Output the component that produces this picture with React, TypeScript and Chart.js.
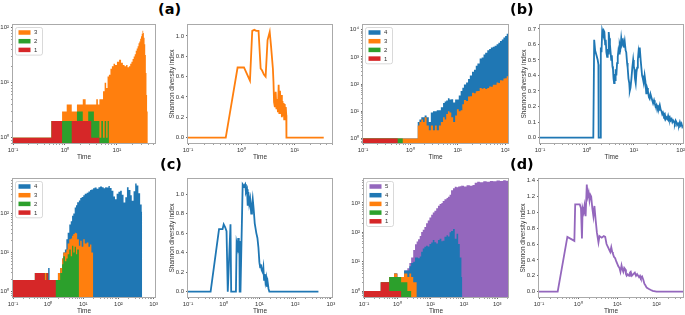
import React, { useEffect, useRef } from "react";
import { Chart, registerables } from "chart.js";
Chart.register(...registerables);

const FONT = "'Liberation Sans', Arial, sans-serif";
const TEXT = "#333333";
const RED = "#d62728";
const GREEN = "#2ca02c";
const ORANGE = "#ff7f0e";
const BLUE = "#1f77b4";
const PURPLE = "#9467bd";

// ---------- Panel (a) : strain abundances ----------
const timeA = [0.1, 0.55, 0.88, 1.08, 1.35, 1.7, 2.2, 2.5, 2.8, 3.2, 3.6, 4.0, 4.3, 4.6, 5.0, 5.4, 5.8, 6.2, 6.6, 7.0, 7.5, 8.0, 8.6, 9.2, 10, 11, 12, 13, 14, 15, 16, 17, 18, 19, 20, 21, 22, 23, 24, 25, 26, 27, 28, 29, 30, 31, 32, 33, 34, 35, 36, 37, 38, 39];
const strain1A = [1, 2, 0, 0, 2, 2, 2, 2, 2, 1, 1, 1, 1, 0, 0, 0, 0, 0, 0, 0, 0, 0, 0, 0, 0, 0, 0, 0, 0, 0, 0, 0, 0, 0, 0, 0, 0, 0, 0, 0, 0, 0, 0, 0, 0, 0, 0, 0, 0, 0, 0, 0, 0, 0];
const strain2A = [0, 0, 2, 2, 0, 1, 0, 0, 1, 2, 1, 1, 1, 1, 2, 1, 2, 1, 2, 0, 0, 0, 0, 0, 0, 0, 0, 0, 0, 0, 0, 0, 0, 0, 0, 0, 0, 0, 0, 0, 0, 0, 0, 0, 0, 0, 0, 0, 0, 0, 0, 0, 0, 0];
const strain3A = [0, 0, 1, 2, 1, 1, 3, 2, 1, 1, 2, 3, 2, 4, 3, 6, 8, 7, 11, 14, 18, 20, 22, 21, 24, 26, 23, 21, 20, 21, 19, 20, 22, 24, 27, 30, 33, 38, 42, 46, 52, 56, 63, 70, 78, 88, 80, 66, 50, 32, 15, 6, 3, 0];

// ---------- Panel (a) : Shannon index ----------
const timeAS = [0.1, 0.51, 0.85, 1.12, 1.45, 1.6, 1.75, 1.9, 2.1, 2.3, 2.45, 2.65, 2.85, 3.1, 3.4, 3.6, 3.9, 4.0, 4.1, 4.25, 4.4, 4.55, 4.7, 4.85, 5.0, 5.15, 5.3, 5.45, 5.6, 5.75, 5.9, 6.05, 6.2, 6.35, 6.5, 6.65, 6.8, 6.95, 7.0, 35];
const shannonA = [0, 0, 0.69, 0.69, 0.56, 1.05, 1.06, 1.05, 1.05, 0.68, 0.66, 0.62, 0.6, 0.96, 1.04, 0.9, 0.68, 0.55, 0.35, 0.3, 0.45, 0.28, 0.38, 0.25, 0.52, 0.24, 0.46, 0.3, 0.42, 0.2, 0.36, 0.22, 0.34, 0.18, 0.33, 0.2, 0.3, 0.22, 0, 0];

// ---------- Panel (b) : strain abundances ----------
const timeB = [0.1, 0.54, 0.69, 1.43, 1.55, 1.7, 1.85, 2.0, 2.2, 2.45, 2.7, 3.0, 3.3, 3.6, 4.0, 4.4, 4.9, 5.3, 5.7, 6.2, 6.7, 7.3, 8.0, 8.8, 9.6, 10.5, 11.5, 12.5, 13.5, 15, 16.5, 18, 20, 22, 24, 26, 29, 32, 35, 38, 42, 46, 50, 55, 60, 66, 72, 78, 85, 92, 100, 108, 115];
const strain1B = [1, 0, 0, 0, 0, 0, 0, 0, 0, 0, 0, 0, 0, 0, 0, 0, 0, 0, 0, 0, 0, 0, 0, 0, 0, 0, 0, 0, 0, 0, 0, 0, 0, 0, 0, 0, 0, 0, 0, 0, 0, 0, 0, 0, 0, 0, 0, 0, 0, 0, 0, 0, 0];
const strain2B = [0, 1, 0, 0, 0, 0, 0, 0, 0, 0, 0, 0, 0, 0, 0, 0, 0, 0, 0, 0, 0, 0, 0, 0, 0, 0, 0, 0, 0, 0, 0, 0, 0, 0, 0, 0, 0, 0, 0, 0, 0, 0, 0, 0, 0, 0, 0, 0, 0, 0, 0, 0, 0];
const strain3B = [0, 0, 1, 3, 4, 5, 4, 6, 3, 2, 3, 2, 3, 2, 3, 4, 6, 5, 8, 10, 9, 6, 4, 7, 12, 10, 11, 18, 26, 24, 35, 36, 48, 46, 55, 56, 72, 68, 72, 66, 72, 82, 80, 95, 95, 115, 110, 140, 135, 160, 165, 195, 190];
const strain4B = [0, 0, 0, 1, 1, 1, 2, 1, 3, 2, 6, 8, 7, 9, 8, 10, 14, 18, 17, 20, 18, 22, 17, 20, 15, 28, 45, 55, 70, 90, 120, 170, 240, 290, 420, 520, 800, 880, 1150, 1350, 1700, 1900, 2150, 2300, 2500, 2800, 3200, 3700, 4300, 5000, 5800, 6900, 7800];

// ---------- Panel (b) : Shannon index ----------
const timeBS = [
  0.1, 1.37, 1.43, 1.5, 1.6, 1.7, 1.76, 1.78, 1.92, 1.98,
  2.05, 2.12, 2.2, 2.28, 2.36, 2.45, 2.52, 2.6, 2.7, 2.78,
  2.85, 2.92, 3.0, 3.1, 3.2, 3.3, 3.4, 3.5, 3.6, 3.7,
  3.8, 3.9, 4.0, 4.1, 4.25, 4.4, 4.55, 4.7, 4.85, 5.0,
  5.2, 5.4, 5.6, 5.9, 6.1, 6.4, 6.7, 6.9, 7.2, 7.4,
  7.7, 8.0, 8.2, 8.5, 8.9, 9.3, 9.7, 10.0, 10.3, 10.6,
  11.0, 11.4, 11.8, 12.2, 12.6, 13.0, 13.4, 14.0, 14.5, 15.0,
  15.6, 16.3, 17.0, 17.7, 18.5, 19.2, 20.0, 21.0, 21.8, 22.7,
  23.7, 24.7, 25.8, 27, 28, 29.2, 30.4, 31.6, 33, 34.4,
  35.8, 37.4, 39, 40.5, 42, 44, 46, 48, 49.7, 52,
  54, 56, 58.5, 61, 64, 66.5, 69, 72, 75, 78,
  81, 84, 88, 92, 96, 100, 104, 108, 112];
const shannonB = [
  0, 0, 0.63, 0.56, 0.53, 0.5, 0.47, 0, 0, 0.58,
  0.55, 0.69, 0.67, 0.69, 0.68, 0.6, 0.63, 0.55, 0.52, 0.57,
  0.54, 0.68, 0.64, 0.6, 0.55, 0.5, 0.53, 0.46, 0.44, 0.38,
  0.35, 0.41, 0.37, 0.44, 0.4, 0.48, 0.52, 0.56, 0.54, 0.6,
  0.58, 0.64, 0.6, 0.62, 0.58, 0.62, 0.56, 0.55, 0.48, 0.45,
  0.38, 0.35, 0.3, 0.32, 0.38, 0.45, 0.5, 0.46, 0.44, 0.38,
  0.35, 0.42, 0.45, 0.5, 0.55, 0.52, 0.58, 0.5, 0.45, 0.4,
  0.38, 0.35, 0.4, 0.36, 0.28, 0.32, 0.3, 0.26, 0.25, 0.28,
  0.26, 0.24, 0.22, 0.24, 0.22, 0.2, 0.21, 0.18, 0.2, 0.19,
  0.21, 0.18, 0.17, 0.15, 0.16, 0.14, 0.15, 0.12, 0.13, 0.12,
  0.14, 0.12, 0.13, 0.11, 0.12, 0.1, 0.11, 0.1, 0.09, 0.11,
  0.1, 0.08, 0.09, 0.08, 0.1, 0.08, 0.09, 0.07, 0.08];

// ---------- Panel (c) : strain abundances ----------
const timeC = [
  0.1, 0.42, 0.8, 0.9, 1.0, 1.1, 1.65, 1.9, 2.2, 2.5,
  2.7, 3.0, 3.3, 3.6, 4.0, 4.4, 4.8, 5.2, 5.7, 6.2,
  6.7, 7.5, 8.2, 9, 10, 11, 12.5, 14, 15.6, 17,
  19, 21, 24, 27, 30, 34, 38, 42, 46, 52,
  57, 64, 72, 80, 89, 100, 112, 125, 140, 157,
  175, 195, 220, 240, 270, 300, 330, 370, 415, 460,
  470];
const strain1C = [
  2, 3, 2, 3, 2, 2, 0, 0, 0, 0,
  0, 0, 0, 0, 0, 0, 0, 0, 0, 0,
  0, 0, 0, 0, 0, 0, 0, 0, 0, 0,
  0, 0, 0, 0, 0, 0, 0, 0, 0, 0,
  0, 0, 0, 0, 0, 0, 0, 0, 0, 0,
  0, 0, 0, 0, 0, 0, 0, 0, 0, 0,
  0];
const strain2C = [
  0, 0, 0, 0, 0, 0, 2, 2, 3, 5,
  8, 6, 7, 9, 12, 8, 15, 10, 14, 9,
  12, 0, 0, 0, 0, 0, 0, 0, 0, 0,
  0, 0, 0, 0, 0, 0, 0, 0, 0, 0,
  0, 0, 0, 0, 0, 0, 0, 0, 0, 0,
  0, 0, 0, 0, 0, 0, 0, 0, 0, 0,
  0];
const strain3C = [
  0, 0, 1, 0, 0, 0, 0, 1, 1, 2,
  2, 4, 5, 8, 10, 15, 12, 20, 18, 22,
  10, 15, 20, 14, 22, 17, 18, 14, 16, 10,
  0, 0, 0, 0, 0, 0, 0, 0, 0, 0,
  0, 0, 0, 0, 0, 0, 0, 0, 0, 0,
  0, 0, 0, 0, 0, 0, 0, 0, 0, 0,
  0];
const strain4C = [
  0, 0, 0, 0, 2, 0, 0, 0, 0, 0,
  0, 2, 10, 15, 30, 40, 60, 70, 110, 130,
  170, 200, 230, 250, 270, 300, 320, 350, 380, 400,
  440, 460, 430, 470, 490, 470, 440, 470, 460, 500,
  450, 380, 270, 230, 320, 360, 380, 300, 190, 260,
  470, 400, 290, 210, 370, 580, 520, 330, 170, 110,
  0];

// ---------- Panel (c) : Shannon index ----------
const timeCS = [
  0.1, 0.43, 0.74, 0.93, 1.0, 1.1, 1.2, 1.3, 1.55, 1.62,
  2.2, 2.3, 2.45, 2.55, 2.65, 2.75, 2.8, 2.95, 3.4, 3.7,
  4.0, 4.2, 4.5, 4.7, 4.9, 5.2, 5.5, 5.9, 6.2, 6.5,
  6.9, 7.4, 8.2, 8.8, 9.4, 10, 10.5, 11, 11.6, 12.3,
  12.9, 13.5, 14.2, 14.8, 15.5, 16.2, 17, 18, 19, 450];
const shannonC = [
  0, 0, 0.64, 0.64, 0.69, 0.66, 0.62, 0, 0.69, 0,
  0, 0.5, 0.45, 0.55, 0.4, 0.52, 0, 0, 1.1, 1.08,
  1.1, 1.02, 1.05, 0.88, 1.02, 0.9, 0.95, 0.8, 0.88, 0.95,
  0.85, 0.7, 0.6, 0.55, 0.45, 0.3, 0.25, 0.28, 0.22, 0.2,
  0.25, 0.12, 0.18, 0.1, 0.14, 0.05, 0.1, 0.03, 0, 0];

// ---------- Panel (d) : strain abundances ----------
const timeD = [
  0.1, 0.32, 0.57, 0.8, 1.0, 1.3, 1.6, 2.0, 2.3, 2.6,
  3.0, 3.4, 3.8, 4.2, 4.7, 5.2, 5.8, 6.5, 7.3, 8.2,
  9.2, 10.4, 11.6, 13, 14.7, 16.6, 18.6, 21, 23, 26,
  30, 33, 37, 41, 47, 53, 60, 67, 75, 84,
  88, 100, 120, 150, 180, 210, 250, 300, 380, 480,
  600, 750, 950, 1200, 1500, 1800, 2100];
const strain1D = [
  1, 2, 1, 1, 1, 0, 0, 0, 0, 0,
  0, 0, 0, 0, 0, 0, 0, 0, 0, 0,
  0, 0, 0, 0, 0, 0, 0, 0, 0, 0,
  0, 0, 0, 0, 0, 0, 0, 0, 0, 0,
  0, 0, 0, 0, 0, 0, 0, 0, 0, 0,
  0, 0, 0, 0, 0, 0, 0];
const strain2D = [
  0, 0, 2, 2, 2, 2, 2, 1, 1, 0,
  0, 0, 0, 0, 0, 0, 0, 0, 0, 0,
  0, 0, 0, 0, 0, 0, 0, 0, 0, 0,
  0, 0, 0, 0, 0, 0, 0, 0, 0, 0,
  0, 0, 0, 0, 0, 0, 0, 0, 0, 0,
  0, 0, 0, 0, 0, 0, 0];
const strain3D = [
  0, 0, 0, 1, 0, 1, 2, 2, 3, 3,
  2, 2, 0, 0, 0, 0, 0, 0, 0, 0,
  0, 0, 0, 0, 0, 0, 0, 0, 0, 0,
  0, 0, 0, 0, 0, 0, 0, 0, 0, 0,
  0, 0, 0, 0, 0, 0, 0, 0, 0, 0,
  0, 0, 0, 0, 0, 0, 0];
const strain4D = [
  0, 0, 0, 0, 0, 0, 1, 2, 3, 6,
  8, 12, 14, 13, 15, 22, 28, 32, 35, 33,
  40, 45, 55, 46, 42, 55, 60, 50, 52, 70,
  80, 72, 100, 110, 130, 60, 90, 40, 14, 3,
  0, 0, 0, 0, 0, 0, 0, 0, 0, 0,
  0, 0, 0, 0, 0, 0, 0];
const strain5D = [
  0, 0, 0, 0, 0, 0, 0, 1, 2, 5,
  15, 25, 35, 45, 60, 80, 95, 120, 170, 220,
  280, 350, 420, 500, 620, 750, 850, 950, 1100, 1250,
  1400, 1550, 1800, 2600, 3000, 3500, 3300, 3600, 3700, 3900,
  3800, 3600, 4000, 3800, 4100, 4800, 5200, 5000, 5400, 5200,
  5600, 5400, 5800, 5600, 5900, 5700, 5800];

// ---------- Panel (d) : Shannon index ----------
const timeDS = [
  0.1, 0.3, 0.53, 0.8, 0.84, 1.0, 1.1, 1.18, 1.25, 1.3,
  1.38, 1.45, 1.55, 1.66, 1.75, 1.85, 1.95, 2.05, 2.15, 2.3,
  2.45, 2.6, 2.8, 3.0, 3.3, 3.5, 4.0, 4.5, 4.9, 5.3,
  5.9, 6.3, 6.6, 7.0, 7.4, 7.7, 8.2, 8.8, 9.4, 10,
  10.6, 11.3, 12, 12.8, 13.5, 14.2, 15, 16, 16.6, 17.3,
  18.5, 20, 21, 22, 23.5, 25.6, 28, 30, 32, 34,
  36, 38, 40, 43, 46, 49, 52, 56, 61, 66,
  72, 80, 100, 475];
const shannonD = [
  0, 0, 0.69, 0.64, 1.1, 1.1, 1.1, 1.05, 0.67, 1.05,
  1.0, 1.08, 0.95, 1.35, 1.2, 1.25, 1.15, 1.22, 1.2, 1.05,
  0.95, 1.08, 0.9, 0.75, 0.62, 0.7, 0.68, 0.7, 0.69, 0.6,
  0.55, 0.52, 0.5, 0.56, 0.5, 0.48, 0.44, 0.42, 0.38, 0.35,
  0.32, 0.3, 0.25, 0.33, 0.28, 0.25, 0.3, 0.28, 0.22, 0.2,
  0.22, 0.2, 0.24, 0.25, 0.2, 0.22, 0.24, 0.2, 0.22, 0.2,
  0.18, 0.2, 0.17, 0.19, 0.15, 0.1, 0.08, 0.05, 0.04, 0.03,
  0.02, 0.01, 0, 0];

// ---------- tick values ----------
const yTicksA = [0, 0.2, 0.4, 0.6, 0.8, 1.0];
const yTicksB = [0, 0.1, 0.2, 0.3, 0.4, 0.5, 0.6, 0.7];
const yTicksC = [0, 0.2, 0.4, 0.6, 0.8, 1.0];
const yTicksD = [0, 0.2, 0.4, 0.6, 0.8, 1.0, 1.2, 1.4];

const SUP: Record<string, string> = { "-": "\u207B", "0": "\u2070", "1": "\u00B9", "2": "\u00B2", "3": "\u00B3", "4": "\u2074", "5": "\u2075" };
const powLabel = (v: number) => {
  const e = Math.round(Math.log10(v));
  return "10" + String(e).split("").map((c) => SUP[c]).join("");
};

function logTicks(min: number, max: number) {
  const out: any[] = [];
  for (let e = Math.floor(Math.log10(min)); e <= Math.ceil(Math.log10(max)); e++) {
    for (let m = 1; m < 10; m++) {
      const v = m * Math.pow(10, e);
      if (v >= min * 0.999 && v <= max * 1.001) out.push({ value: v, major: m === 1 });
    }
  }
  return out;
}

const PT = 7;
const PR = 9;
const XH = 18;

const tickFont = { family: FONT, size: 6 };
const titleFont = { family: FONT, size: 6.5 };
const gridOpts = {
  drawOnChartArea: false,
  drawTicks: true,
  tickLength: 2,
  tickWidth: 0.8,
  tickColor: (c: any) => (c.tick && c.tick.major ? "#444444" : "#888888"),
};

function xScale(min: number, max: number) {
  return {
    type: "logarithmic",
    min,
    max,
    bounds: "data",
    afterBuildTicks: (s: any) => {
      s.ticks = logTicks(min, max);
    },
    afterFit: (s: any) => {
      s.height = XH;
    },
    ticks: {
      autoSkip: false,
      maxRotation: 0,
      minRotation: 0,
      padding: 2,
      color: TEXT,
      font: tickFont,
      callback: (v: number, i: number, t: any[]) => (t[i] && t[i].major ? powLabel(v) : ""),
    },
    grid: gridOpts,
    border: { display: false },
    title: { display: true, text: "Time", color: TEXT, font: titleFont, padding: { top: 0, bottom: 0 } },
  };
}

function logYScale(min: number, max: number, yW: number) {
  return {
    type: "logarithmic",
    min,
    max,
    bounds: "data",
    afterBuildTicks: (s: any) => {
      s.ticks = logTicks(min, max);
    },
    afterFit: (s: any) => {
      s.width = yW;
    },
    ticks: {
      autoSkip: false,
      padding: 2,
      color: TEXT,
      font: tickFont,
      callback: (v: number, i: number, t: any[]) => (t[i] && t[i].major ? powLabel(v) : ""),
    },
    grid: gridOpts,
    border: { display: false },
  };
}

function linYScale(min: number, max: number, vals: number[], yW: number) {
  return {
    type: "linear",
    min,
    max,
    bounds: "data",
    afterBuildTicks: (s: any) => {
      s.ticks = vals.map((v) => ({ value: v, major: true }));
    },
    afterFit: (s: any) => {
      s.width = yW;
    },
    ticks: {
      autoSkip: false,
      padding: 2,
      color: TEXT,
      font: tickFont,
      callback: (v: number) => Number(v).toFixed(1),
    },
    grid: gridOpts,
    border: { display: false },
    title: {
      display: true,
      text: "Shannon diversity index",
      color: TEXT,
      font: titleFont,
      padding: { top: 4.6, bottom: 0 },
    },
  };
}

// Fills each stacked layer as one solid polygon from its (library-positioned)
// points down to the floor of the chart area. Highest layer first.
const stackFillPlugin = {
  id: "stackFill",
  beforeDatasetsDraw(chart: any, _args: any, opts: any) {
    if (!opts || !opts.enabled) return;
    const { ctx, chartArea: a } = chart;
    ctx.save();
    ctx.beginPath();
    ctx.rect(a.left, a.top, a.right - a.left, a.bottom - a.top);
    ctx.clip();
    for (let k = chart.data.datasets.length - 1; k >= 0; k--) {
      const pts = chart.getDatasetMeta(k).data;
      if (!pts.length) continue;
      ctx.beginPath();
      ctx.moveTo(pts[0].x, a.bottom + 2);
      pts.forEach((p: any) => ctx.lineTo(p.x, p.y));
      ctx.lineTo(pts[pts.length - 1].x, a.bottom + 2);
      ctx.closePath();
      ctx.fillStyle = chart.data.datasets[k].backgroundColor;
      ctx.fill();
    }
    ctx.restore();
  },
};

const framePlugin = {
  id: "frame",
  afterDatasetsDraw(chart: any, _args: any, opts: any) {
    const { ctx, chartArea: a } = chart;
    ctx.save();
    ctx.strokeStyle = "#aaaaaa";
    ctx.lineWidth = 1;
    const l = Math.round(a.left), t = Math.round(a.top), r = Math.round(a.right), b = Math.round(a.bottom);
    ctx.strokeRect(l - 0.5, t - 0.5, r - l + 1, b - t + 1);
    if (opts && opts.legend) {
      const items = chart.data.datasets.slice().reverse();
      const rowH = 8.7;
      const bx = a.left + 2.5, by = a.top + 2.5, bw = 27, bh = items.length * rowH + 1.5;
      ctx.beginPath();
      ctx.roundRect(bx, by, bw, bh, 2);
      ctx.fillStyle = "rgba(255,255,255,0.85)";
      ctx.fill();
      ctx.strokeStyle = "#cfcfcf";
      ctx.lineWidth = 0.8;
      ctx.stroke();
      ctx.font = `6px ${FONT}`;
      ctx.textBaseline = "middle";
      ctx.textAlign = "left";
      items.forEach((d: any, i: number) => {
        const cy = by + 5 + i * rowH;
        ctx.fillStyle = d.backgroundColor;
        ctx.fillRect(bx + 3, cy - 2.25, 12, 4.5);
        ctx.fillStyle = TEXT;
        ctx.fillText(d.label, bx + 18.5, cy + 0.3);
      });
    }
    ctx.restore();
  },
};

function baseOptions(x: any, y: any, legend: boolean) {
  return {
    responsive: false,
    animation: false,
    events: [],
    layout: { padding: { top: PT, right: PR, left: 0, bottom: 0 } },
    plugins: {
      legend: { display: false },
      tooltip: { enabled: false },
      frame: { legend },
      stackFill: { enabled: legend },
    },
    elements: { point: { radius: 0 }, line: { tension: 0 } },
    scales: { x, y },
  };
}

type Series = { label: string; color: string; values: number[] };

// Stack plot: each layer's top is the running total of the series up to it,
// held constant until the next sample (step vertices).
function stackConfig(time: number[], series: Series[], xmin: number, xmax: number, ymin: number, ymax: number, yW: number) {
  const running = time.map(() => 0);
  const datasets = series.map((s) => {
    const data: { x: number; y: number }[] = [];
    time.forEach((t, i) => {
      running[i] += s.values[i];
      const y = running[i] > 0 ? running[i] : ymin;
      data.push({ x: t, y });
      if (i < time.length - 1) data.push({ x: time[i + 1], y });
    });
    return {
      label: s.label,
      data,
      backgroundColor: s.color,
      borderColor: s.color,
      showLine: false,
      fill: false,
      pointRadius: 0,
    };
  });
  return {
    type: "line",
    data: { datasets },
    options: baseOptions(xScale(xmin, xmax), logYScale(ymin, ymax, yW), true),
    plugins: [stackFillPlugin, framePlugin],
  };
}

function lineConfig(time: number[], values: number[], color: string, xmin: number, xmax: number, ymin: number, ymax: number, ticks: number[], yW: number) {
  return {
    type: "line",
    data: {
      datasets: [
        {
          label: "Shannon diversity index",
          data: time.map((t, i) => ({ x: t, y: values[i] })),
          borderColor: color,
          backgroundColor: color,
          borderWidth: 1.8,
          fill: false,
          pointRadius: 0,
        },
      ],
    },
    options: baseOptions(xScale(xmin, xmax), linYScale(ymin, ymax, ticks, yW), false),
    plugins: [stackFillPlugin, framePlugin],
  };
}

function ChartPanel(props: { x0: number; y0: number; x1: number; y1: number; yW: number; make: (yW: number) => any }) {
  const { x0, y0, x1, y1, yW, make } = props;
  const ref = useRef<HTMLCanvasElement>(null);
  const w = x1 - x0 + yW + PR;
  const h = y1 - y0 + PT + XH;
  useEffect(() => {
    const chart = new Chart(ref.current as HTMLCanvasElement, make(yW));
    return () => chart.destroy();
  }, []);
  return (
    <canvas
      ref={ref}
      width={w}
      height={h}
      style={{ position: "absolute", left: x0 - yW, top: y0 - PT, width: w, height: h }}
    />
  );
}

const letterStyle = (left: number, top: number): React.CSSProperties => ({
  position: "absolute",
  left,
  top,
  fontFamily: "'DejaVu Sans', sans-serif",
  fontWeight: "bold",
  fontSize: 14.5,
  lineHeight: 1,
  color: "#000",
});

export default function App() {
  return (
    <div style={{ position: "fixed", left: 0, top: 0, width: 685, height: 315, overflow: "hidden", background: "#ffffff" }}>
      <ChartPanel x0={13} y0={25} x1={155} y1={143} yW={13}
        make={(yW) => stackConfig(timeA, [
          { label: "1", color: RED, values: strain1A },
          { label: "2", color: GREEN, values: strain2A },
          { label: "3", color: ORANGE, values: strain3A },
        ], 0.1, 54, 0.8, 112, yW)} />
      <ChartPanel x0={188} y0={25} x1={332} y1={143} yW={24}
        make={(yW) => lineConfig(timeAS, shannonA, ORANGE, 0.1, 50, -0.053, 1.108, yTicksA, yW)} />
      <ChartPanel x0={363} y0={25} x1={508} y1={143} yW={15}
        make={(yW) => stackConfig(timeB, [
          { label: "1", color: RED, values: strain1B },
          { label: "2", color: GREEN, values: strain2B },
          { label: "3", color: ORANGE, values: strain3B },
          { label: "4", color: BLUE, values: strain4B },
        ], 0.1, 115, 0.68, 15000, yW)} />
      <ChartPanel x0={540} y0={25} x1={683} y1={143} yW={24}
        make={(yW) => lineConfig(timeBS, shannonB, BLUE, 0.1, 112, -0.035, 0.725, yTicksB, yW)} />
      <ChartPanel x0={13} y0={179} x1={155} y1={297} yW={13}
        make={(yW) => stackConfig(timeC, [
          { label: "1", color: RED, values: strain1C },
          { label: "2", color: GREEN, values: strain2C },
          { label: "3", color: ORANGE, values: strain3C },
          { label: "4", color: BLUE, values: strain4C },
        ], 0.1, 1100, 0.73, 760, yW)} />
      <ChartPanel x0={188} y0={179} x1={332} y1={297} yW={24}
        make={(yW) => lineConfig(timeCS, shannonC, BLUE, 0.1, 1080, -0.055, 1.155, yTicksC, yW)} />
      <ChartPanel x0={364} y0={179} x1={508} y1={297} yW={16}
        make={(yW) => stackConfig(timeD, [
          { label: "1", color: RED, values: strain1D },
          { label: "2", color: GREEN, values: strain2D },
          { label: "3", color: ORANGE, values: strain3D },
          { label: "4", color: BLUE, values: strain4D },
          { label: "5", color: PURPLE, values: strain5D },
        ], 0.1, 2100, 0.63, 6500, yW)} />
      <ChartPanel x0={539} y0={179} x1={683} y1={297} yW={24}
        make={(yW) => lineConfig(timeDS, shannonD, PURPLE, 0.1, 475, -0.068, 1.42, yTicksD, yW)} />
      <div style={letterStyle(158, 2)}>(a)</div>
      <div style={letterStyle(510, 2)}>(b)</div>
      <div style={letterStyle(160, 157)}>(c)</div>
      <div style={letterStyle(510, 157)}>(d)</div>
    </div>
  );
}
